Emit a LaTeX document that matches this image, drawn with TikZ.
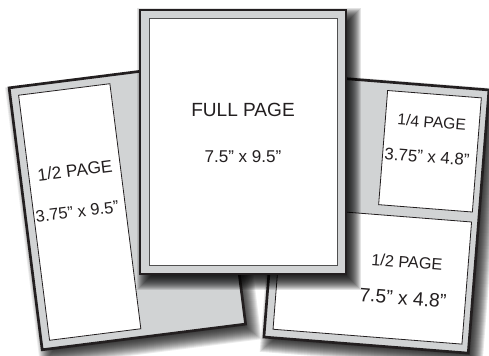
\documentclass[tikz,border=0pt]{standalone}
\usepackage{fontspec}
\setmainfont{Liberation Sans}
\definecolor{pagegray}{RGB}{209,211,212}
\definecolor{edgeblack}{RGB}{35,31,32}
\definecolor{innerline}{RGB}{80,80,80}
\newcommand\pageshadow[7]{%
  \foreach \k in {0,...,#6}{%
    \fill[black,opacity=#7] (#1-#5+\k,#2-#5+\k) rectangle (#3+#5-\k,#4+#5-\k);}}
\tikzset{
  pageframe/.style={fill=pagegray, draw=edgeblack, line width=2pt},
  panel/.style={fill=white, draw=edgeblack, line width=0.6pt},
  fullpanel/.style={fill=white, draw=innerline, line width=0.6pt},
  lbl/.style={inner sep=0pt, text=edgeblack},
}
\newcommand\fs[1]{\fontsize{#1}{#1}\selectfont}
\begin{document}
\begin{tikzpicture}[x=0.75pt,y=-0.75pt]
\useasboundingbox (0,0) rectangle (489,356);
\fill[white] (0,0) rectangle (489,356);

% ---------- left page ----------
\begin{scope}[shift={(8,87)}, rotate=7.2, transform shape]
  \pageshadow{5}{8}{212}{274}{8}{16}{0.08}
  \draw[pageframe] (1,1) rectangle (206,265);
  \draw[panel] (9.5,9.5) rectangle (101.5,256.5);
  \node[lbl, font=\fs{12.9}] (lhalf) at (56,91) {1/2 PAGE};
  \node[lbl, font=\fs{12.4}] (ldim) at (53,132.5) {3.75” x 9.5”};
\end{scope}

% ---------- right page ----------
\begin{scope}[shift={(283.7,72.8)}, rotate=-4.5, transform shape]
  \pageshadow{6}{7}{213}{272}{8}{16}{0.09}
  \draw[pageframe] (1,1) rectangle (206,265);
  \draw[panel] (105,9.5) rectangle (199,124);
  \draw[panel] (9.5,134) rectangle (199,256.5);
  \node[lbl, font=\fs{11.8}] (rq) at (151.5,37.5) {1/4 PAGE};
  \node[lbl, font=\fs{12.6}] (rqdim) at (149.5,72.7) {3.75” x 4.8”};
  \node[lbl, font=\fs{12.2}] (rh) at (137.7,179) {1/2 PAGE};
  \node[lbl, font=\fs{14.5}] (rhdim) at (136.5,215) {7.5” x 4.8”};
\end{scope}

% ---------- full page ----------
\pageshadow{146}{17}{352}{281}{9}{17}{0.11}
\draw[pageframe] (140,10) rectangle (346,274);
\draw[fullpanel] (149.5,18.5) rectangle (337.5,265.5);
\node[lbl, font=\fs{14.3}] (full) at (243,110) {FULL PAGE};
\node[lbl, font=\fs{12.8}] (fulldim) at (243,156.5) {7.5” x 9.5”};
\end{tikzpicture}
\end{document}
